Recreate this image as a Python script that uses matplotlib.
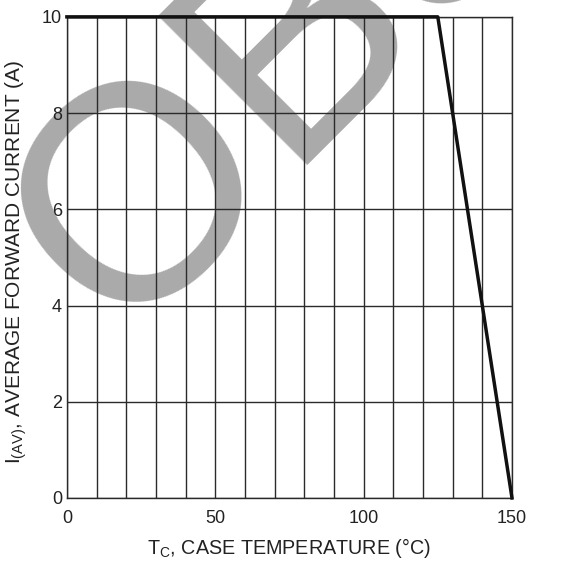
import matplotlib
matplotlib.use("Agg")
from matplotlib import pyplot as plt
import numpy as np

plt.rcParams['font.family'] = ['Liberation Sans', 'DejaVu Sans']

# derating curve: case temperature (C) vs average forward current (A)
temp = [0, 125, 150]
current = [10, 10, 0]

x_ticks = [0, 50, 100, 150]
y_ticks = [0, 2, 4, 6, 8, 10]
x_grid = np.arange(0, 151, 10)

fig = plt.figure(figsize=(5.62, 5.62), dpi=100)
ax = fig.add_axes([0.119, 0.114, 0.792, 0.856])

ax.set_xlim(0, 150)
ax.set_ylim(0, 10)
ax.set_xticks(x_ticks)
ax.set_yticks(y_ticks)
ax.set_xticks(x_grid, minor=True)
ax.tick_params(which='both', length=0, labelsize=13, colors='#222222')
ax.tick_params(axis='x', pad=9)
ax.tick_params(axis='y', pad=3.6)
ax.grid(which='both', color='#2a2a2a', linewidth=1.0, zorder=1)
ax.set_axisbelow(True)
for s in ax.spines.values():
    s.set_linewidth(1.0)
    s.set_color('#2a2a2a')

# watermark
fig.text(0.211, 0.395, 'OBSOLETE', fontsize=220, rotation=45, rotation_mode='anchor',
         ha='left', va='baseline', color='#aaaaaa', zorder=2)

ax.plot(temp, current, color='#111111', linewidth=2.5, zorder=5, clip_on=False)
ax.set_zorder(3)
ax.patch.set_alpha(0)

ax.set_xlabel(r'$\mathregular{T_C}$, CASE TEMPERATURE (°C)', fontsize=14.2, color='#222222', labelpad=6)
ax.set_ylabel(r'$\mathregular{I_{(AV)}}$, AVERAGE FORWARD CURRENT (A)', fontsize=15, color='#222222', labelpad=8)
ax.yaxis.set_label_coords(-0.085, 0.49)

fig.savefig('out.png', dpi=100)
